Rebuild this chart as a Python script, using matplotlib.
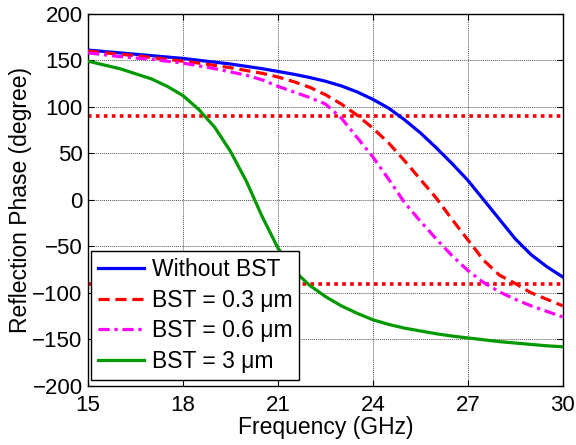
import matplotlib
matplotlib.use("Agg")
import matplotlib.pyplot as plt

plt.rcParams['font.family'] = ['Liberation Sans', 'DejaVu Sans']

freq = [15, 15.5, 16, 16.5, 17, 17.5, 18, 18.5, 19, 19.5, 20, 20.5, 21, 21.5, 22, 22.5,
        23, 23.5, 24, 24.5, 25, 25.5, 26, 26.5, 27, 27.5, 28, 28.5, 29, 29.5, 30]

without_bst = [161, 159.5, 158, 156.5, 155, 153.5, 152, 150, 148, 146, 143.5, 141, 138, 135, 131.5, 127.5,
               122.5, 116, 108, 98.5, 86, 72, 56, 39, 21, 0, -21, -42, -59, -72, -83]
bst_03 = [160, 158, 156.5, 155, 153, 151, 149, 147, 144.5, 142, 139, 136, 132, 127, 121, 113,
          103, 91, 77, 61, 42, 22, 2, -21, -43, -65, -81, -90, -100, -107, -114]
bst_06 = [158, 156, 154, 152.5, 151, 149, 147, 144, 141, 137.5, 134, 129, 122, 116, 110, 103,
          88, 67, 46, 22, -3, -23, -42, -60, -76, -89, -99, -107, -114, -120, -126]
bst_3 = [149, 145, 141, 135.5, 130, 122, 112, 97, 78, 52, 20, -18, -52, -76, -92, -104,
         -114, -122, -129, -134, -138, -141, -144, -146.5, -148.5, -150.5, -152.5, -154, -155.5, -157, -158]

ref_levels = [90, -90]

fig = plt.figure(figsize=(5.76, 4.45), dpi=100)
ax = fig.add_axes([0.153, 0.133, 0.824, 0.836])

for lv in ref_levels:
    ax.plot([15, 30], [lv, lv], color='#ff0000', linestyle=(0, (1, 1.2)), linewidth=2.6, zorder=2)

ax.plot(freq, without_bst, color='#0000ff', linewidth=2.3, label='Without BST', zorder=3)
ax.plot(freq, bst_03, color='#ff0000', linewidth=2.3, linestyle=(0, (3.5, 1.8)), label='BST = 0.3 \u03bcm', zorder=3)
ax.plot(freq, bst_06, color='#ff00ff', linewidth=2.3, linestyle=(0, (3.5, 1.5, 1, 1.5)), label='BST = 0.6 \u03bcm', zorder=3)
ax.plot(freq, bst_3, color='#009900', linewidth=2.3, label='BST = 3 \u03bcm', zorder=3)

ax.set_xlim(15, 30)
ax.set_ylim(-200, 200)
ax.set_xticks([15, 18, 21, 24, 27, 30])
ax.set_yticks([-200, -150, -100, -50, 0, 50, 100, 150, 200])
ax.grid(True, color='#555555', linestyle=(0, (1, 1)), linewidth=0.7)
ax.tick_params(direction='in', top=True, right=True, labelsize=16, length=4)
ax.tick_params(axis='x', pad=6.5)
ax.tick_params(axis='y', pad=4)
for s in ax.spines.values():
    s.set_linewidth(1.0)

ax.set_xlabel('Frequency (GHz)', fontsize=16.5, labelpad=0)
ax.set_ylabel('Reflection Phase (degree)', fontsize=16.5, labelpad=0)

leg = ax.legend(loc='lower left', bbox_to_anchor=(0.006, 0.016), fontsize=16.5, frameon=True, fancybox=False,
                edgecolor='black', framealpha=1, handlelength=2.0, borderaxespad=0,
                labelspacing=0.33, handletextpad=0.35, borderpad=0.3)
leg.get_frame().set_linewidth(1.0)
leg.set_zorder(5)

fig.savefig('out.png', dpi=100)
